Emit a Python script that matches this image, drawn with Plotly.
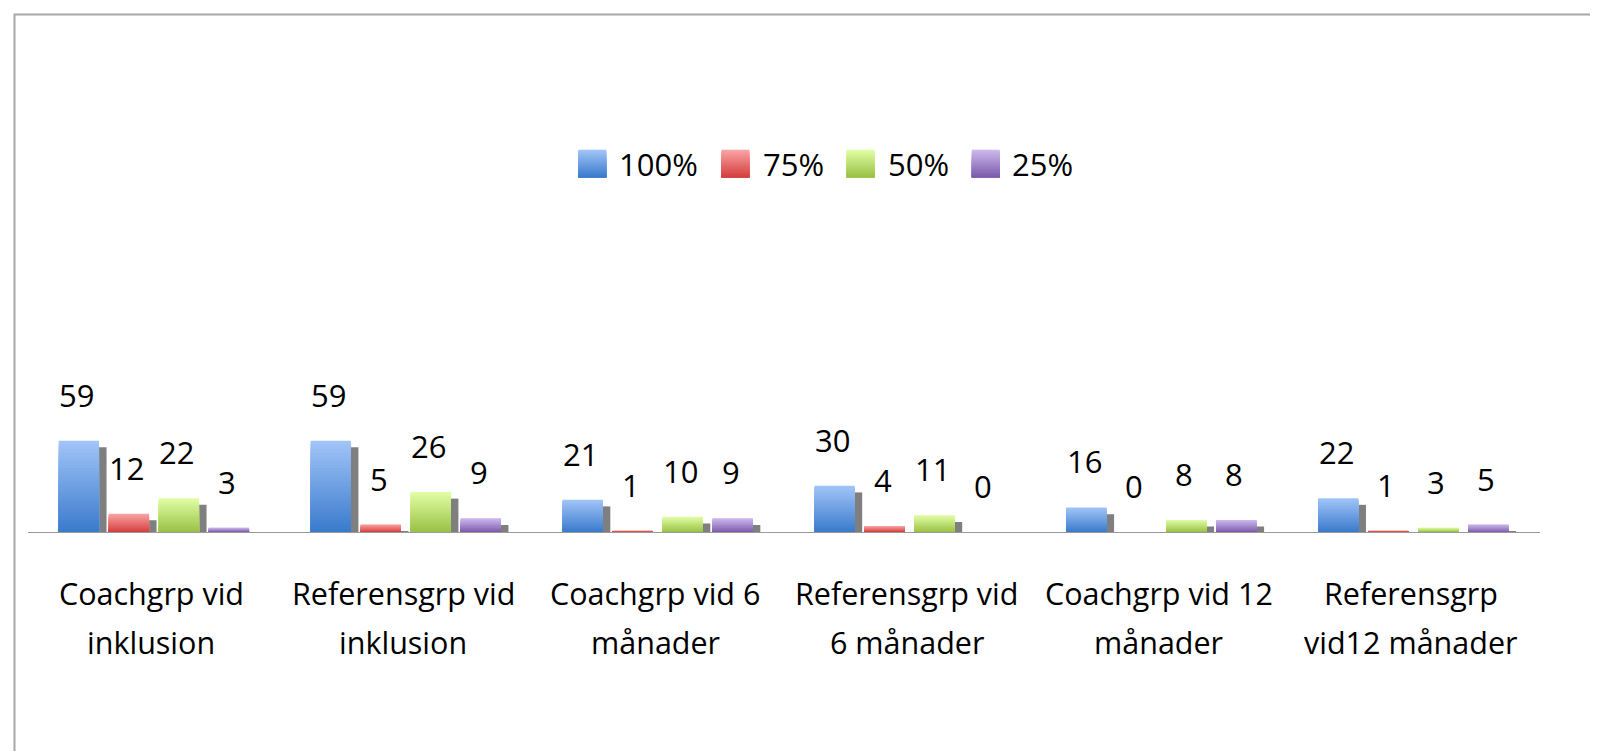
import plotly.graph_objects as go

# ---------------- data ----------------
categories = [
    "Coachgrp vid inklusion",
    "Referensgrp vid inklusion",
    "Coachgrp vid 6 månader",
    "Referensgrp vid 6 månader",
    "Coachgrp vid 12 månader",
    "Referensgrp vid12 månader",
]
category_lines = [
    ["Coachgrp vid", "inklusion"],
    ["Referensgrp vid", "inklusion"],
    ["Coachgrp vid 6", "månader"],
    ["Referensgrp vid", "6 månader"],
    ["Coachgrp vid 12", "månader"],
    ["Referensgrp", "vid12 månader"],
]
series_names = ["100%", "75%", "50%", "25%"]
values_100 = [59, 59, 21, 30, 16, 22]
values_75 = [12, 5, 1, 4, 0, 1]
values_50 = [22, 26, 10, 11, 8, 3]
values_25 = [3, 9, 9, 0, 8, 5]
series_values = [values_100, values_75, values_50, values_25]

# ---------------- style ----------------
top_colors = ["#A0C4F8", "#F9A3A3", "#E0FDA4", "#CDB8EE"]
bottom_colors = ["#3B7BCC", "#D5403F", "#9BC246", "#7D5CAB"]
shadow_color = "#7F7F7F"
FONT = "Open Sans"

FW, FH = 1598, 751
X0, X1 = 20.4, 1531.7        # plot area left/right (px)
Y0, YT = 524.3, 60.0         # baseline / plot top (px)
PXU = 1.553                  # pixels per unit
CW = (X1 - X0) / len(categories)
BAR_W = 40.3 / CW
PITCH = 50.0 / CW
FIRST = -95.6 / CW
SH_W = 7.5 / CW
SH_DROP = 6.7 / PXU
N_LAYERS = 30


def hex2rgb(h):
    h = h.lstrip("#")
    return tuple(int(h[i:i + 2], 16) for i in (0, 2, 4))


def mix(c1, c2, t):
    a, b = hex2rgb(c1), hex2rgb(c2)
    return "rgb(%d,%d,%d)" % tuple(round(a[i] + (b[i] - a[i]) * t) for i in range(3))


fig = go.Figure()

for i, (name, vals) in enumerate(zip(series_names, series_values)):
    left = FIRST + i * PITCH
    # shadow
    fig.add_trace(go.Bar(
        x=categories, y=[max(v - SH_DROP, 0) for v in vals],
        offset=left + BAR_W, width=SH_W,
        marker=dict(color=shadow_color, line=dict(width=0)),
        showlegend=False, hoverinfo="skip",
    ))
    # gradient layers (first layer carries the real values)
    for k in range(N_LAYERS):
        frac = (N_LAYERS - k) / N_LAYERS
        col = mix(top_colors[i], bottom_colors[i], k / (N_LAYERS - 1))
        fig.add_trace(go.Bar(
            x=categories, y=[v * frac for v in vals] if k else vals,
            name=name, offset=left, width=BAR_W,
            marker=dict(color=col, line=dict(width=0)),
            showlegend=False,
            hoverinfo="skip" if k else None,
        ))
    # value labels
    for j, v in enumerate(vals):
        fig.add_annotation(
            x=categories[j], y=v, xref="x", yref="y",
            xshift=(left + BAR_W / 2) * CW - 2, yshift=46,
            text=str(v), showarrow=False, yanchor="middle",
            font=dict(family=FONT, size=31, color="black"),
        )

# category labels (two lines each)
for j, lines in enumerate(category_lines):
    for n, line in enumerate(lines):
        fig.add_annotation(
            x=categories[j], y=0, xref="x", yref="y",
            xshift=-3, yshift=-61 - 49 * n, text=line, showarrow=False,
            yanchor="middle", xanchor="center",
            font=dict(family=FONT, size=30.5, color="black"),
        )

# manual legend
shapes = []
leg_sq_x = [570.3, 713.4, 838.6, 963.8]
leg_tx_x = [609.0, 752.8, 878.0, 1002.0]
sq_top, sq_bot = 141.7, 169.3
for i, name in enumerate(series_names):
    nb = 20
    for k in range(nb):
        y_a = sq_top + (sq_bot - sq_top) * k / nb
        shapes.append(dict(
            type="rect", xref="paper", yref="paper",
            x0=leg_sq_x[i] / FW, x1=(leg_sq_x[i] + 28) / FW,
            y0=1 - sq_bot / FH, y1=1 - y_a / FH,
            fillcolor=mix(top_colors[i], bottom_colors[i], k / (nb - 1)),
            line=dict(width=0), layer="above",
        ))
    fig.add_annotation(
        x=leg_tx_x[i] / FW, y=1 - 155.5 / FH, xref="paper", yref="paper",
        text=name, showarrow=False, xanchor="left", yanchor="middle",
        font=dict(family=FONT, size=31, color="black"),
    )

# outer border
shapes.append(dict(
    type="rect", xref="paper", yref="paper",
    x0=6.5 / FW, x1=1591.7 / FW, y0=-0.05, y1=1 - 6.5 / FH,
    line=dict(color="#A8A8A8", width=2), fillcolor="rgba(0,0,0,0)",
))

fig.update_layout(
    width=FW, height=FH,
    margin=dict(l=0, r=0, t=0, b=0),
    paper_bgcolor="white", plot_bgcolor="white",
    barmode="overlay",
    showlegend=False,
    shapes=shapes,
    font=dict(family=FONT, color="black"),
    xaxis=dict(
        domain=[X0 / FW, X1 / FW], type="category",
        showline=True, linecolor="#9A9A9A", linewidth=1,
        showticklabels=False, ticks="", showgrid=False, zeroline=False,
    ),
    yaxis=dict(
        domain=[(FH - Y0) / FH, (FH - YT) / FH],
        range=[0, (Y0 - YT) / PXU],
        visible=False, showgrid=False, zeroline=False,
    ),
)

fig.write_html("out.html")
